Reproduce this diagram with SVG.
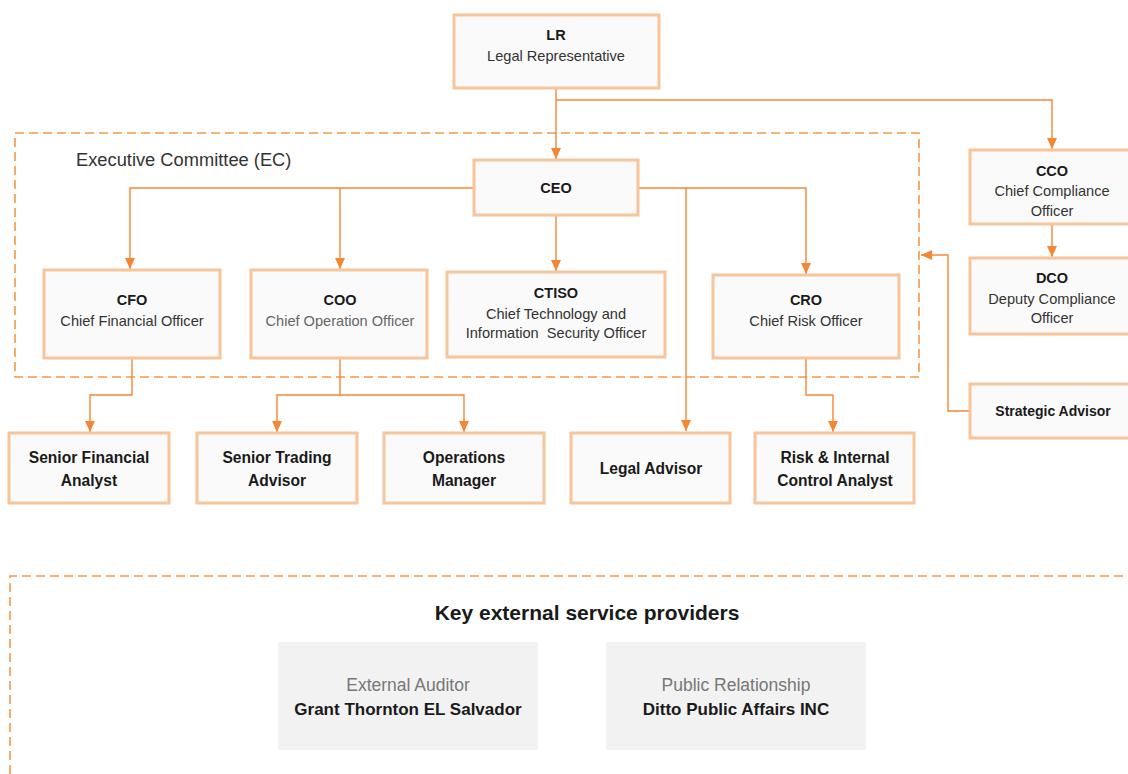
<svg xmlns="http://www.w3.org/2000/svg" width="1128" height="774" viewBox="0 0 1128 774">
<defs>
<marker id="arr" markerUnits="userSpaceOnUse" markerWidth="12" markerHeight="10" refX="11" refY="5" orient="auto">
<path d="M0,0 L11,5 L0,10 Z" fill="#F58634"/>
</marker>
<style>
.box{fill:#fafafa;stroke:#F8C49A;stroke-width:3}
.ext{fill:#f2f2f2}
.dash{fill:none;stroke:#F79646;stroke-width:1.6;stroke-dasharray:9 5}
.con{fill:none;stroke:#F58634;stroke-width:1.4}
text{font-family:"Liberation Sans",Arial,sans-serif;text-anchor:middle;fill:#1a1a1a}
.t{font-size:14.5px;font-weight:bold}
.s{font-size:14.6px;fill:#333}
.b{font-size:15.6px;font-weight:bold}
.g{font-size:17.5px;fill:#777}
.gb{font-size:17px;font-weight:bold}
</style>
</defs>
<rect width="1128" height="774" fill="#ffffff"/>
<g id="ec-frame">
<rect class="dash" x="15" y="133" width="904" height="244"/>
<text x="76" y="166" style="font-size:18.3px;text-anchor:start;fill:#333">Executive Committee (EC)</text>
</g>
<g id="external-frame">
<path class="dash" d="M10,774 L10,576 L1128,576"/>
<text x="587" y="620" style="font-size:21px;font-weight:bold">Key external service providers</text>
</g>
<g id="connectors">
<path class="con" d="M556,89 L556,159" marker-end="url(#arr)"/>
<path class="con" d="M556,100 L1052,100 L1052,149" marker-end="url(#arr)"/>
<path class="con" d="M474,188 L130,188 L130,269" marker-end="url(#arr)"/>
<path class="con" d="M340,188 L340,269" marker-end="url(#arr)"/>
<path class="con" d="M556,216 L556,271" marker-end="url(#arr)"/>
<path class="con" d="M639,188 L806,188 L806,274" marker-end="url(#arr)"/>
<path class="con" d="M686,188 L686,431" marker-end="url(#arr)"/>
<path class="con" d="M1052,225 L1052,257" marker-end="url(#arr)"/>
<path class="con" d="M132,359 L132,395 L90,395 L90,432" marker-end="url(#arr)"/>
<path class="con" d="M340,359 L340,395"/>
<path class="con" d="M340,395 L277,395 L277,432" marker-end="url(#arr)"/>
<path class="con" d="M340,395 L464,395 L464,432" marker-end="url(#arr)"/>
<path class="con" d="M806,359 L806,395 L833,395 L833,432" marker-end="url(#arr)"/>
<path class="con" d="M970,411 L948,411 L948,255 L921,255" marker-end="url(#arr)"/>
</g>
<g id="lr"><rect class="box" x="454" y="15" width="205" height="73"/><text class="t" x="556" y="40">LR</text><text class="s" x="556" y="61">Legal Representative</text></g>
<g id="ceo"><rect class="box" x="474" y="160" width="164" height="55"/><text class="t" x="556" y="193">CEO</text></g>
<g id="cfo"><rect class="box" x="44" y="270" width="176" height="88"/><text class="t" x="132" y="305">CFO</text><text class="s" x="132" y="326">Chief Financial Officer</text></g>
<g id="coo"><rect class="box" x="251" y="270" width="176" height="88"/><text class="t" x="340" y="305">COO</text><text class="s" x="340" y="326" style="fill:#666">Chief Operation Officer</text></g>
<g id="ctiso"><rect class="box" x="447" y="272" width="218" height="85"/><text class="t" x="556" y="298">CTISO</text><text class="s" x="556" y="319">Chief Technology and</text><text class="s" x="556" y="338" xml:space="preserve">Information  Security Officer</text></g>
<g id="cro"><rect class="box" x="713" y="275" width="186" height="83"/><text class="t" x="806" y="305">CRO</text><text class="s" x="806" y="326">Chief Risk Officer</text></g>
<g id="cco"><rect class="box" x="970" y="150" width="170" height="74"/><text class="t" x="1052" y="176">CCO</text><text class="s" x="1052" y="196">Chief Compliance</text><text class="s" x="1052" y="216">Officer</text></g>
<g id="dco"><rect class="box" x="970" y="258" width="170" height="76"/><text class="t" x="1052" y="283">DCO</text><text class="s" x="1052" y="304">Deputy Compliance</text><text class="s" x="1052" y="323">Officer</text></g>
<g id="strategic-advisor"><rect class="box" x="970" y="384" width="170" height="54"/><text class="b" x="1053" y="416" style="font-size:14px">Strategic Advisor</text></g>
<g id="sfa"><rect class="box" x="9" y="433" width="160" height="70"/><text class="b" x="89" y="463">Senior Financial</text><text class="b" x="89" y="486">Analyst</text></g>
<g id="sta"><rect class="box" x="197" y="433" width="160" height="70"/><text class="b" x="277" y="463">Senior Trading</text><text class="b" x="277" y="486">Advisor</text></g>
<g id="om"><rect class="box" x="384" y="433" width="160" height="70"/><text class="b" x="464" y="463">Operations</text><text class="b" x="464" y="486">Manager</text></g>
<g id="la"><rect class="box" x="571" y="433" width="159" height="70"/><text class="b" x="651" y="474">Legal Advisor</text></g>
<g id="rica"><rect class="box" x="755" y="433" width="159" height="70"/><text class="b" x="835" y="463">Risk &amp; Internal</text><text class="b" x="835" y="486">Control Analyst</text></g>
<g id="auditor"><rect class="ext" x="278" y="642" width="260" height="108"/><text class="g" x="408" y="691">External Auditor</text><text class="gb" x="408" y="715">Grant Thornton EL Salvador</text></g>
<g id="pr"><rect class="ext" x="606" y="642" width="260" height="108"/><text class="g" x="736" y="691">Public Relationship</text><text class="gb" x="736" y="715">Ditto Public Affairs INC</text></g>
</svg>
